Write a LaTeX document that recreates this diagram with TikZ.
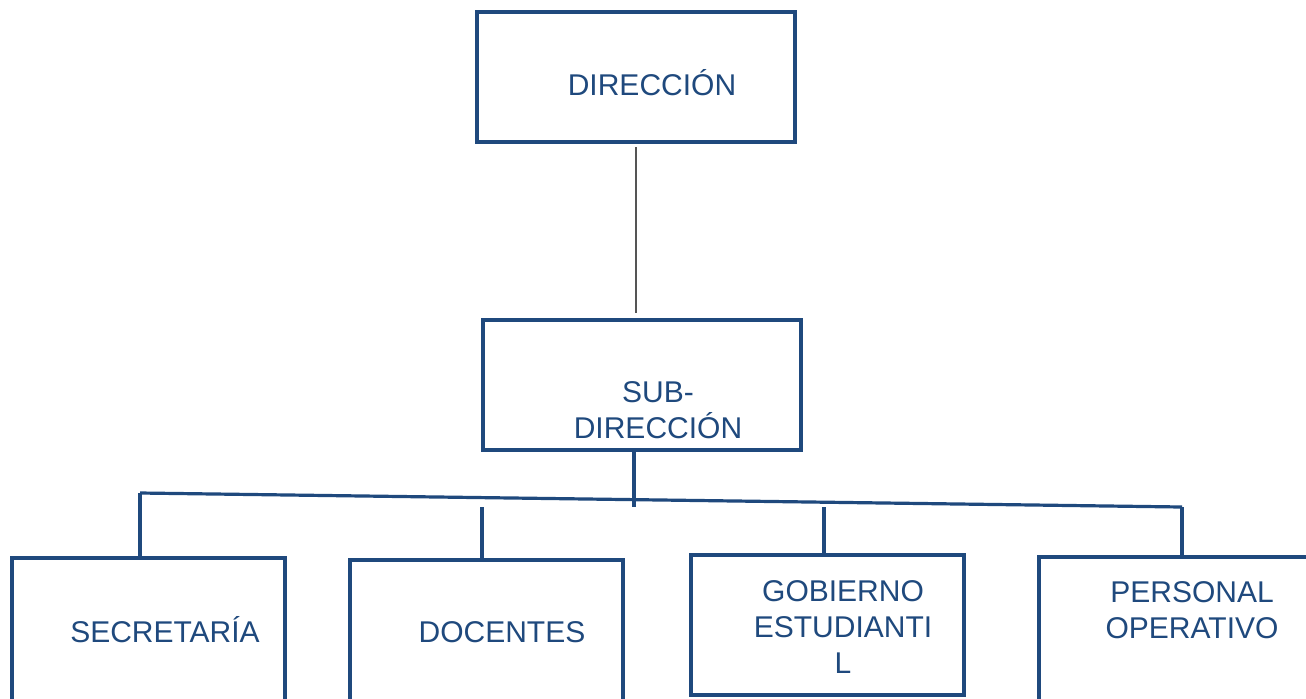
\documentclass[tikz,border=0pt]{standalone}
\usepackage{fontspec}
\setmainfont{Liberation Sans}
\definecolor{orgblue}{RGB}{31,73,125}
\definecolor{thingray}{RGB}{85,85,85}
\begin{document}
\begin{tikzpicture}[x=0.5pt,y=-0.5pt,
  box/.style={draw=orgblue, line width=2.1pt, inner sep=0pt, rectangle},
  lbl/.style={text=orgblue, font=\fontsize{15pt}{17.9pt}\selectfont, inner sep=0pt, align=center, anchor=base},
  link/.style={draw=orgblue, line width=1.6pt},
  thinlink/.style={draw=thingray, line width=0.8pt}]
\useasboundingbox (0,0) rectangle (1306,698);
\clip (0,0) rectangle (1306,698);
\fill[white] (0,0) rectangle (1306,698);
% boxes
\node[box, minimum width=159pt, minimum height=65pt] (dir) at (636,77) {};
\node[box, minimum width=159pt, minimum height=65pt] (sub) at (642,385) {};
\node[box, minimum width=136.5pt, minimum height=81pt] (sec) at (148.5,639) {};
\node[box, minimum width=136.5pt, minimum height=80pt] (doc) at (486.5,640) {};
\node[box, minimum width=136.5pt, minimum height=70pt] (gob) at (827.5,625) {};
\node[box, minimum width=140.5pt, minimum height=81.5pt] (per) at (1179.5,638.5) {};
% texts (base anchor = baseline of the last line)
\node[lbl] (tdir) at (652,95) {DIRECCIÓN};
\node[lbl] (tsub) at (658,438) {SUB-\\DIRECCIÓN};
\node[lbl] (tsec) at (165,642) {SECRETARÍA};
\node[lbl] (tdoc) at (502,642) {DOCENTES};
\node[lbl] (tgob) at (843,673) {GOBIERNO\\ESTUDIANTI\\L};
\node[lbl] (tper) at (1192,638) {PERSONAL\\OPERATIVO};
% connector coordinates
\coordinate (hl) at (140,493);
\coordinate (hr) at (1182,507);
\coordinate (sj) at (634,507);
\coordinate (d1) at (482,507);
\coordinate (g1) at (824,507);
% connectors
\draw[thinlink, shorten <=1.5pt, shorten >=2.5pt] (dir.south) -- (dir.south |- sub.north);
\draw[link] (hl) -- (hr);
\draw[link] (sub.south -| sj) -- (sj);
\draw[link] (hl) -- (hl |- sec.north);
\draw[link] (d1) -- (d1 |- doc.north);
\draw[link] (g1) -- (g1 |- gob.north);
\draw[link] (hr) -- (hr |- per.north);
\end{tikzpicture}
\end{document}
